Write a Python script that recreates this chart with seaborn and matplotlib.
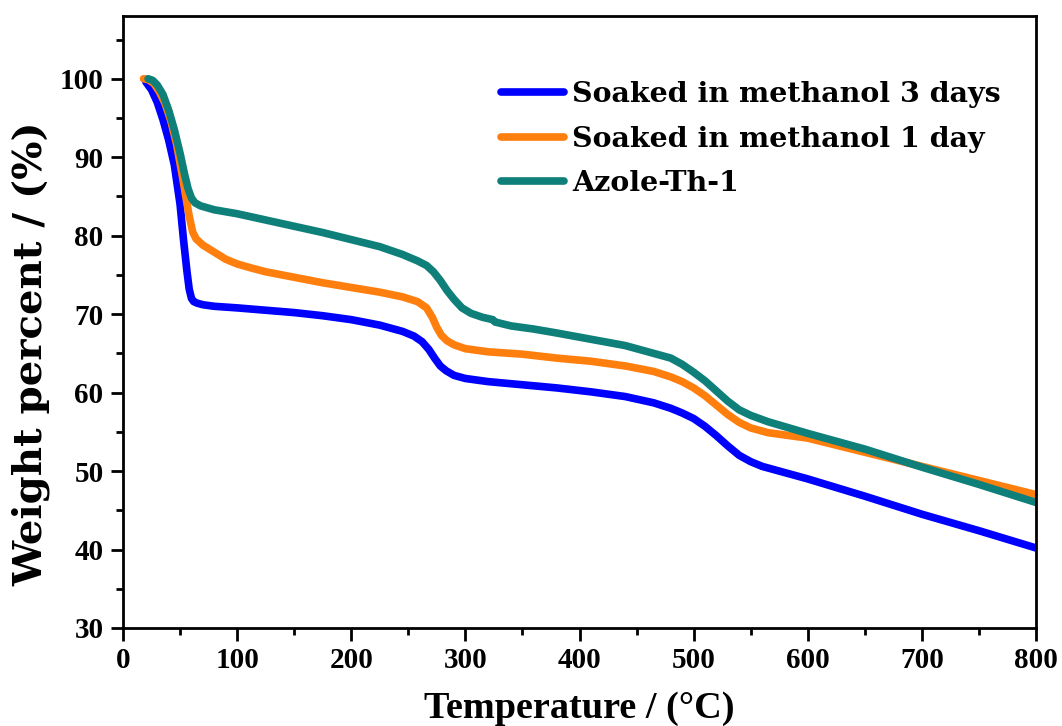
import numpy as np
import pandas as pd
import matplotlib
matplotlib.use("Agg")
import matplotlib.pyplot as plt
from matplotlib.ticker import MultipleLocator
import seaborn as sns

# TGA curves: temperature (°C) vs. remaining weight (%)
temp_3d = [20, 25, 30, 35, 40, 45, 50, 53, 56, 58, 60, 62, 65, 70, 80, 100, 125, 150, 175, 200,
           225, 245, 255, 262, 268, 273, 278, 283, 290, 300, 320, 350, 380, 410, 440, 465, 480,
           490, 500, 510, 520, 530, 540, 550, 560, 580, 600, 650, 700, 750, 800]
weight_3d = [99.6, 98.6, 97.0, 94.8, 92.2, 89.0, 84.0, 79.5, 75.5, 73.2, 72.0, 71.6, 71.4, 71.2,
             71.0, 70.8, 70.5, 70.2, 69.8, 69.3, 68.6, 67.8, 67.2, 66.5, 65.5, 64.4, 63.4, 62.8,
             62.2, 61.8, 61.4, 61.0, 60.6, 60.1, 59.5, 58.7, 58.0, 57.4, 56.7, 55.7, 54.5, 53.2,
             52.0, 51.2, 50.6, 49.8, 49.0, 46.8, 44.5, 42.4, 40.2]

temp_1d = [18, 22, 27, 32, 37, 42, 47, 52, 55, 58, 61, 64, 70, 80, 90, 100, 112, 125, 150, 175,
           200, 225, 245, 258, 266, 271, 275, 279, 284, 290, 300, 320, 350, 380, 410, 440, 465,
           480, 490, 500, 510, 520, 530, 540, 550, 565, 600, 650, 700, 750, 800]
weight_1d = [100.0, 99.9, 99.4, 98.3, 96.8, 94.6, 91.6, 87.6, 85.0, 82.5, 80.5, 79.6, 78.8, 77.9,
             77.0, 76.4, 75.9, 75.4, 74.7, 74.0, 73.4, 72.8, 72.2, 71.6, 70.8, 69.6, 68.3, 67.3,
             66.6, 66.1, 65.6, 65.2, 64.9, 64.4, 64.0, 63.4, 62.7, 62.0, 61.4, 60.6, 59.6, 58.4,
             57.2, 56.2, 55.5, 54.9, 54.2, 52.4, 50.6, 48.8, 47.0]

temp_az = [22, 26, 30, 35, 40, 45, 50, 54, 57, 60, 63, 68, 80, 100, 125, 150, 175, 200, 225, 245,
           258, 266, 272, 278, 284, 290, 297, 305, 315, 324, 326, 340, 360, 380, 410, 440, 465,
           480, 490, 500, 510, 520, 530, 540, 550, 565, 600, 650, 700, 750, 800]
weight_az = [100.0, 99.8, 99.2, 98.0, 96.0, 93.5, 90.5, 87.8, 86.0, 84.8, 84.2, 83.8, 83.3, 82.8,
             82.0, 81.2, 80.4, 79.5, 78.6, 77.6, 76.8, 76.2, 75.4, 74.3, 73.0, 71.9, 70.8, 70.1,
             69.6, 69.3, 69.0, 68.5, 68.1, 67.6, 66.8, 66.0, 65.0, 64.4, 63.6, 62.6, 61.5, 60.2,
             58.9, 57.8, 57.1, 56.3, 54.8, 52.8, 50.5, 48.3, 46.0]

labels = ["Soaked in methanol 3 days", "Soaked in methanol 1 day", "Azole-Th-1"]
colors = ["#0000ff", "#ff7f0e", "#0f7f7a"]

x_ticks = [0, 100, 200, 300, 400, 500, 600, 700, 800]
y_ticks = [30, 40, 50, 60, 70, 80, 90, 100]

df = pd.concat([
    pd.DataFrame({"T": temp_3d, "W": weight_3d, "sample": labels[0]}),
    pd.DataFrame({"T": temp_1d, "W": weight_1d, "sample": labels[1]}),
    pd.DataFrame({"T": temp_az, "W": weight_az, "sample": labels[2]}),
], ignore_index=True)

sns.set_theme(style="ticks")
plt.rcParams["font.family"] = ["Liberation Serif", "DejaVu Serif"]
plt.rcParams.update({"text.color": "black", "axes.labelcolor": "black",
                     "xtick.color": "black", "ytick.color": "black",
                     "axes.edgecolor": "black"})

W, H = 1062, 726
fig = plt.figure(figsize=(W / 100, H / 100), dpi=100)
ax = fig.add_axes([123 / W, 1 - 628 / H, (1036 - 123) / W, (628 - 16) / H])

sns.lineplot(data=df, x="T", y="W", hue="sample", hue_order=labels,
             palette=dict(zip(labels, colors)), sort=False, linewidth=5.5,
             estimator=None, ax=ax, legend=False)
for line in ax.get_lines():
    line.set_solid_capstyle("round")
    line.set_solid_joinstyle("round")

ax.set_xlim(0, 800)
ax.set_ylim(30, 108)
ax.set_xticks(x_ticks)
ax.set_yticks(y_ticks)
ax.xaxis.set_minor_locator(MultipleLocator(50))
ax.yaxis.set_minor_locator(MultipleLocator(5))
ax.tick_params(which="both", direction="out", width=2, color="black",
               top=False, right=False)
ax.tick_params(which="major", length=9, labelsize=21, pad=5)
ax.tick_params(which="minor", length=5)
for lab in ax.get_xticklabels() + ax.get_yticklabels():
    lab.set_fontweight("bold")
for sp in ax.spines.values():
    sp.set_linewidth(2)
    sp.set_color("black")

ax.set_xlabel("Temperature / (°C)", fontsize=27.5, fontweight="bold")
ax.set_ylabel("Weight percent / (%)", fontsize=29, fontweight="bold",
              family=["DejaVu Serif"])
ax.xaxis.set_label_coords(0.5, -(718 - 628) / (628 - 16), transform=ax.transAxes)
ax.xaxis.label.set_va("baseline")
ax.yaxis.set_label_coords(-(123 - 31) / (1036 - 123), (628 - 354) / (628 - 16),
                          transform=ax.transAxes)
ax.yaxis.label.set_va("center")

handles = [plt.Line2D([], [], color=c, linewidth=5.5, solid_capstyle="round") for c in colors]
leg = fig.legend(handles, labels, loc="upper left", frameon=False,
                 prop={"family": "DejaVu Serif", "weight": "bold", "size": 20.5},
                 handlelength=2.2, handletextpad=0.3, labelspacing=0.62,
                 borderpad=0, borderaxespad=0,
                 bbox_to_anchor=(501 / W, 1 - 81 / H))

fig.savefig("out.png", dpi=100)
